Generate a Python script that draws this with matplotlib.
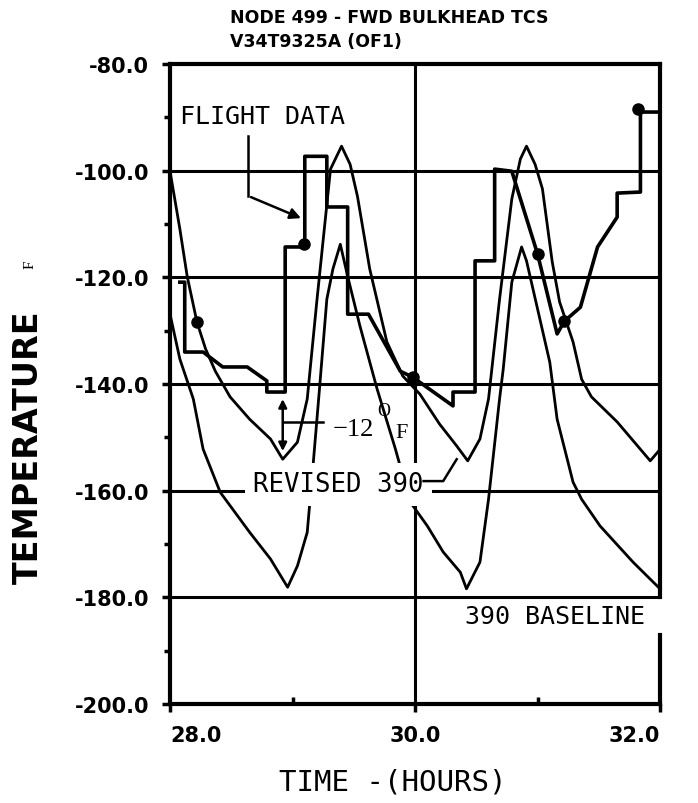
import matplotlib
matplotlib.use("Agg")
import matplotlib.pyplot as plt
from matplotlib.ticker import MultipleLocator, FixedLocator

# Revised 390 prediction
rev_x = [28.0, 28.08, 28.14, 28.22, 28.29, 28.37, 28.49, 28.65, 28.82, 28.92,
         29.04, 29.12, 29.20, 29.31, 29.40, 29.47, 29.53, 29.63, 29.77, 29.90,
         30.04, 30.20, 30.34, 30.43, 30.53, 30.60, 30.69, 30.79, 30.86, 30.91,
         30.98, 31.04, 31.12, 31.18, 31.29, 31.36, 31.44, 31.65, 31.92, 31.98, 32.0]
rev_y = [-100.1, -110.9, -119.8, -128.4, -133.4, -137.6, -142.4, -146.6, -150.3, -154.1,
         -150.9, -142.8, -124.1, -99.7, -95.4, -98.8, -104.8, -118.4, -132.1, -138.5,
         -141.9, -147.5, -151.6, -154.4, -150.3, -142.8, -124.1, -105.3, -97.8, -95.4,
         -98.8, -103.4, -117.1, -124.6, -132.1, -139.1, -142.4, -147.1, -154.4, -152.8, -152.2]

# 390 baseline prediction
base_x = [28.0, 28.08, 28.19, 28.27, 28.41, 28.65, 28.82, 28.96, 29.04, 29.12,
          29.17, 29.22, 29.28, 29.33, 29.39, 29.45, 29.55, 29.69, 29.84, 29.96,
          30.10, 30.23, 30.37, 30.42, 30.53, 30.60, 30.69, 30.72, 30.79, 30.87,
          30.91, 31.10, 31.16, 31.29, 31.36, 31.51, 31.78, 32.0]
base_y = [-126.9, -135.3, -142.8, -152.2, -160.3, -167.8, -172.8, -178.1, -174.1, -167.8,
          -154.6, -140.9, -124.1, -118.4, -113.8, -119.8, -129.1, -140.9, -152.2, -162.1,
          -166.6, -171.5, -175.3, -178.4, -173.4, -161.6, -142.8, -137.2, -120.9, -114.3,
          -116.9, -135.9, -146.6, -158.4, -161.6, -166.6, -173.4, -178.4]

# flight data trace
fl_x = [28.08, 28.12, 28.12, 28.27, 28.43, 28.63, 28.79, 28.79, 28.94, 28.94,
        29.10, 29.10, 29.28, 29.28, 29.45, 29.45, 29.62, 29.88, 29.98, 30.31,
        30.31, 30.49, 30.49, 30.65, 30.65, 30.79, 31.00, 31.16, 31.22, 31.35,
        31.49, 31.65, 31.65, 31.84, 31.84, 32.0]
fl_y = [-120.9, -120.9, -134.0, -134.0, -136.8, -136.8, -139.4, -141.5, -141.5, -114.3,
        -114.3, -97.3, -97.3, -106.8, -106.8, -126.9, -126.9, -137.6, -138.7, -144.1,
        -141.5, -141.5, -116.9, -116.9, -99.7, -100.1, -115.6, -130.6, -128.2, -125.6,
        -114.3, -108.7, -104.2, -104.0, -89.0, -89.0]

# flight data sample points
pt_x = [28.22, 29.09, 29.98, 31.00, 31.22, 31.82]
pt_y = [-128.4, -113.8, -138.7, -115.6, -128.2, -88.4]

x_ticks = [28.0, 30.0, 32.0]
x_labels = ["28.0", "30.0", "32.0"]
y_ticks = [-200.0, -180.0, -160.0, -140.0, -120.0, -100.0, -80.0]
y_labels = ["-200.0", "-180.0", "-160.0", "-140.0", "-120.0", "-100.0", "-80.0"]

fig = plt.figure(figsize=(6.98, 8.04), dpi=100)
ax = fig.add_axes([0.2436, 0.1231, 0.702, 0.796])

ax.set_xlim(28.0, 32.0)
ax.set_ylim(-200.0, -80.0)

# grid
for yv in [-100, -120, -140, -160, -180]:
    ax.axhline(yv, color="black", lw=2.2, zorder=1)
ax.axvline(30.0, color="black", lw=2.2, zorder=1)

ax.plot(rev_x, rev_y, color="black", lw=2.0, zorder=3)
ax.plot(base_x, base_y, color="black", lw=2.0, zorder=3)
ax.plot(fl_x, fl_y, color="black", lw=2.6, zorder=3)
ax.plot(pt_x, pt_y, "o", color="black", ms=8, zorder=4)

# spines / ticks
for s in ["left", "bottom", "top"]:
    ax.spines[s].set_linewidth(3)
ax.spines["right"].set_visible(False)
ax.axvline(32.0, ymin=(-180 + 200) / 120, ymax=1.0, color="black", lw=3, clip_on=False)
ax.axvline(32.0, ymin=0.0, ymax=(-187 + 200) / 120, color="black", lw=3, clip_on=False)

ax.xaxis.set_major_locator(FixedLocator(x_ticks))
ax.set_xticklabels(x_labels)
ax.yaxis.set_major_locator(FixedLocator(y_ticks))
ax.set_yticklabels(y_labels)
ax.xaxis.set_minor_locator(MultipleLocator(1.0))
ax.yaxis.set_minor_locator(MultipleLocator(10.0))
ax.tick_params(axis="both", which="major", direction="out", length=6, width=2.5,
               pad=9, labelsize=15)
ax.tick_params(axis="x", which="minor", direction="in", length=5, width=2.5)
ax.tick_params(axis="y", which="minor", direction="out", length=4, width=2.5)
for lab in ax.get_xticklabels() + ax.get_yticklabels():
    lab.set_fontweight("bold")
xl = ax.get_xticklabels()
xl[0].set_ha("left")
xl[2].set_ha("right")

mono = "DejaVu Sans Mono"

# annotations
ax.text(28.08, -89.8, "FLIGHT DATA", family=mono, fontsize=18, ha="left", va="center")
ax.annotate("", xy=(29.09, -109.1), xytext=(28.64, -104.75),
            arrowprops=dict(arrowstyle="-|>", color="black", lw=1.8, mutation_scale=16))
ax.plot([28.64, 28.64], [-93.5, -104.75], color="black", lw=1.8)

ax.annotate("", xy=(28.92, -153.1), xytext=(28.92, -142.3),
            arrowprops=dict(arrowstyle="<|-|>", color="black", lw=1.8, mutation_scale=12))
ax.plot([28.92, 29.25], [-147.1, -147.1], color="black", lw=1.8)
ax.text(29.33, -148.5, "\u221212", family="Liberation Serif", fontsize=19, ha="left", va="center")
ax.text(29.69, -145.0, "O", family="Liberation Serif", fontsize=13, ha="left", va="center")
ax.text(29.84, -149.0, "F", family="Liberation Serif", fontsize=16, ha="left", va="center")

ax.text(28.68, -158.8, "REVISED 390", family=mono, fontsize=18.5, ha="left", va="center",
        zorder=5, bbox=dict(facecolor="white", edgecolor="none", pad=6))
ax.plot([30.07, 30.23, 30.34], [-158.2, -158.2, -154.1], color="black", lw=1.8, zorder=6)

ax.text(30.41, -183.5, "390 BASELINE", family=mono, fontsize=18, ha="left", va="center")

# titles and axis labels
fig.text(0.33, 0.978, "NODE 499 - FWD BULKHEAD TCS", fontsize=12.5, fontweight="bold",
         ha="left", va="center")
fig.text(0.33, 0.948, "V34T9325A (OF1)", fontsize=12.5, fontweight="bold",
         ha="left", va="center")
fig.text(28 / 698, 1 - 447 / 804, "TEMPERATURE", fontsize=24, fontweight="bold",
         rotation=90, ha="center", va="center")
fig.text(30 / 698, 1 - 265 / 804, "F", fontsize=11, family="Liberation Serif",
         rotation=90, ha="center", va="center")
fig.text(393 / 698, 1 - 783 / 804, "TIME -(HOURS)", family=mono, fontsize=21,
         ha="center", va="center")

fig.savefig("out.png", dpi=100)
